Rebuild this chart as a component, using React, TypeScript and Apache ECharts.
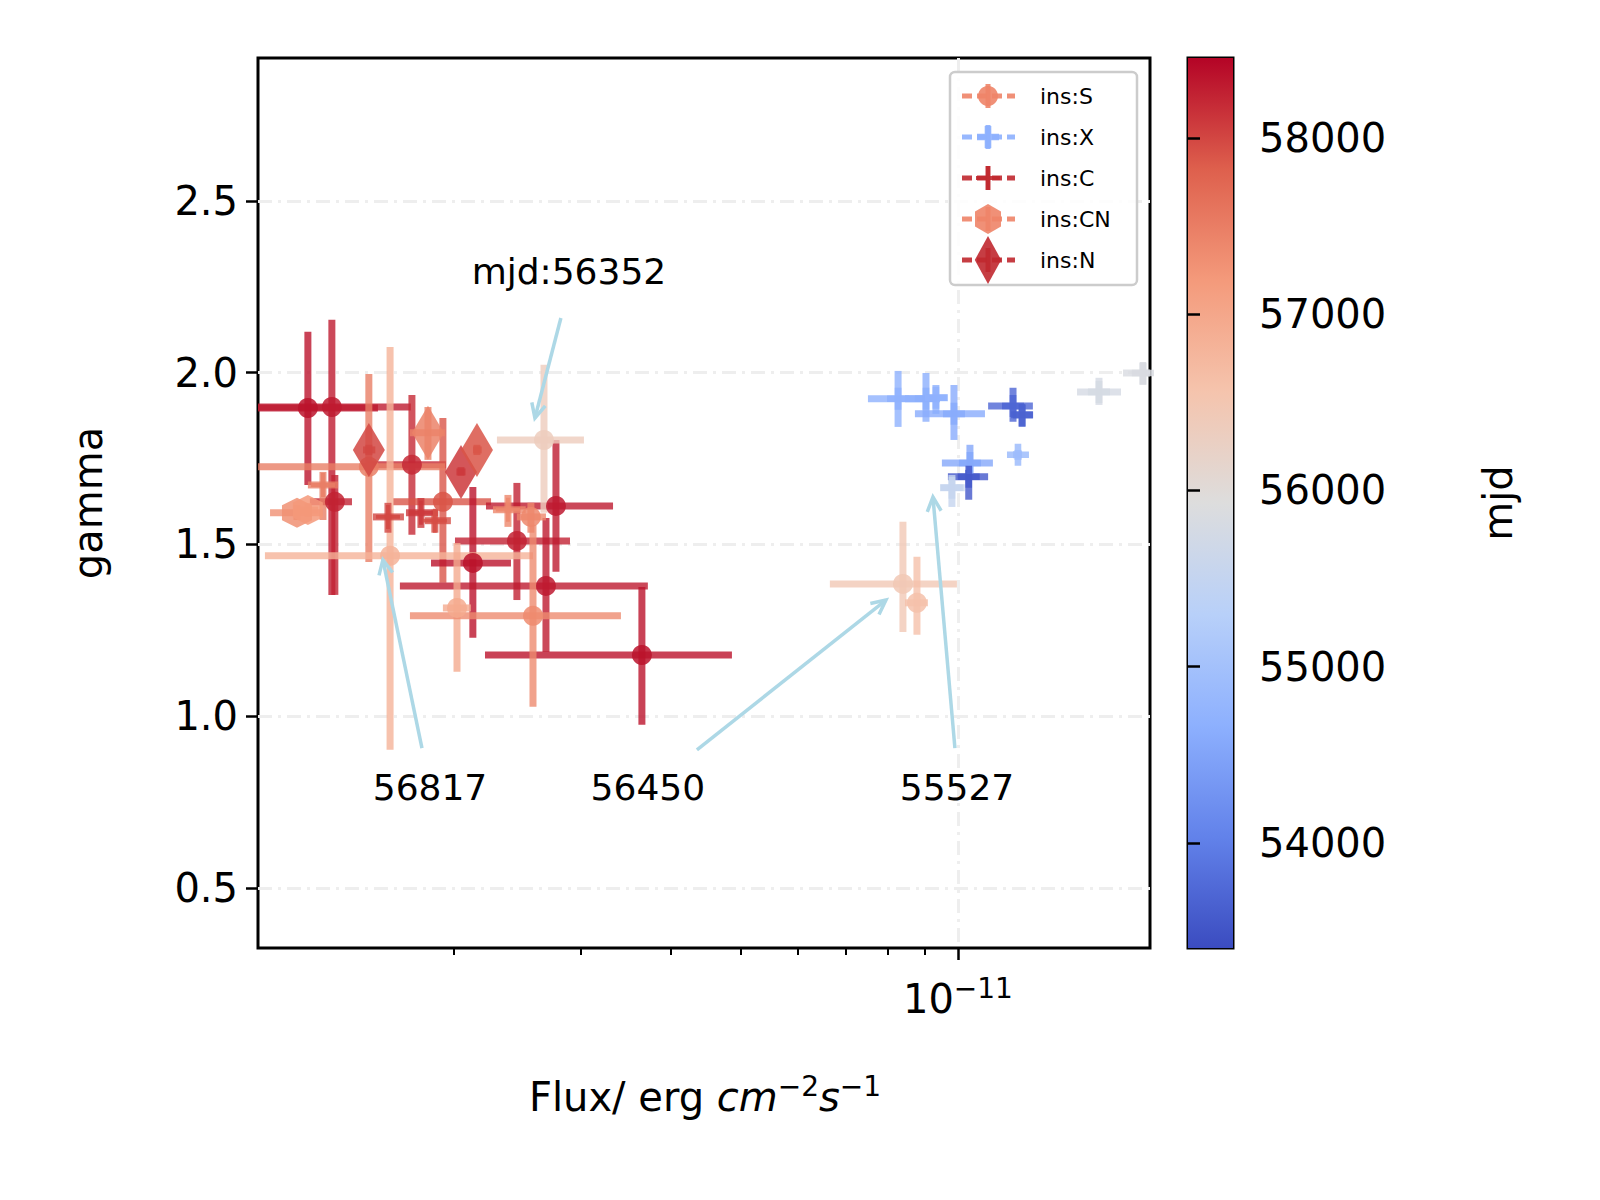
import React, { useEffect, useRef } from "react";
import * as echarts from "echarts";

// rows: [flux(1e-12), fluxLo, fluxHi, gamma, gammaLo, gammaHi, mjd]
const insS = [
  [1.258, 1.013, 1.573, 1.897, 1.673, 2.119, 58350],
  [1.358, 1.073, 1.747, 1.9, 1.353, 2.154, 58300],
  [1.371, 1.266, 1.448, 1.624, 1.353, 1.702, 58250],
  [1.753, 1.523, 1.954, 1.732, 1.528, 1.935, 58200],
  [1.935, 1.651, 2.256, 1.624, 1.388, 1.868, 57900],
  [2.129, 1.863, 2.404, 1.446, 1.228, 1.667, 58350],
  [2.45, 2.011, 2.902, 1.51, 1.338, 1.679, 58250],
  [2.775, 2.22, 3.329, 1.612, 1.42, 1.804, 58300],
  [2.688, 1.687, 3.72, 1.379, 1.187, 1.577, 58300],
  [3.65, 2.213, 4.864, 1.178, 0.975, 1.376, 58350],
  [1.528, 1.073, 1.948, 1.726, 1.449, 1.996, 57500],
  [1.635, 1.097, 2.579, 1.467, 0.902, 2.075, 56817],
  [2.024, 1.935, 2.116, 1.315, 1.129, 1.504, 56950],
  [2.579, 1.742, 3.414, 1.292, 1.027, 1.557, 57350],
  [2.562, 2.45, 2.688, 1.58, 1.534, 1.621, 57400],
  [2.671, 2.299, 3.034, 1.804, 1.592, 2.023, 56352],
  [8.391, 6.647, 9.968, 1.385, 1.245, 1.566, 56450],
  [8.775, 8.446, 9.088, 1.33, 1.237, 1.464, 56600],
];
const insX = [
  [8.262, 7.505, 9.088, 1.924, 1.842, 2.005, 54700],
  [9.031, 8.446, 9.443, 1.924, 1.857, 1.999, 54650],
  [9.322, 9.031, 9.685, 1.927, 1.88, 1.964, 54700],
  [9.874, 8.718, 10.9, 1.88, 1.804, 1.964, 54600],
  [11.92, 11.01, 12.7, 1.903, 1.857, 1.956, 53700],
  [12.27, 11.92, 12.7, 1.877, 1.842, 1.906, 53650],
  [12.11, 11.92, 12.27, 1.761, 1.746, 1.775, 54900],
  [10.39, 9.501, 11.18, 1.737, 1.708, 1.79, 54550],
  [10.35, 9.685, 11.01, 1.697, 1.63, 1.717, 53550],
  [9.81, 9.443, 10.22, 1.665, 1.609, 1.702, 55527],
  [15.68, 14.62, 16.82, 1.944, 1.906, 1.985, 55800],
  [18.04, 16.93, 18.75, 1.999, 1.964, 2.028, 55850],
];
const insC = [
  [1.32, 1.258, 1.385, 1.673, 1.571, 1.711, 57500],
  [1.624, 1.548, 1.709, 1.58, 1.534, 1.621, 58000],
  [1.804, 1.72, 1.905, 1.592, 1.548, 1.635, 58100],
  [1.886, 1.827, 1.985, 1.569, 1.534, 1.601, 57950],
  [2.381, 2.27, 2.52, 1.601, 1.551, 1.644, 57400],
];
const insCN = [
  [1.215, 1.115, 1.32, 1.592, 1.571, 1.615, 57300],
  [1.258, 1.215, 1.3, 1.6, 1.58, 1.62, 57200],
];
const insN = [
  [1.528, 1.5, 1.56, 1.775, 1.76, 1.79, 58000],
  [1.845, 1.742, 1.948, 1.825, 1.746, 1.9, 57450],
  [2.05, 2.02, 2.08, 1.711, 1.7, 1.725, 58100],
  [2.157, 2.13, 2.19, 1.775, 1.76, 1.79, 57900],
];

const gammaTicks = [0.5, 1.0, 1.5, 2.0, 2.5];
const mjdTicks = [54000, 55000, 56000, 57000, 58000];
const minorFlux = [2, 3, 4, 5, 6, 7, 8, 9];
const mjdMin = 53404;
const mjdMax = 58454;

// [label, textFlux, textGamma, startFlux, startGamma, tipFlux, tipGamma]
const notes: [string, number, number, number, number, number, number][] = [
  ["mjd:56352", 2.892, 2.293, 2.819, 2.159, 2.595, 1.868],
  ["56817", 1.857, 0.791, 1.81, 0.907, 1.598, 1.455],
  ["56450", 3.72, 0.791, 4.35, 0.902, 7.949, 1.338],
  ["55527", 9.97, 0.791, 9.904, 0.907, 9.234, 1.638],
];

const stops = [
  [59, 76, 192], [98, 130, 234], [141, 176, 254], [184, 208, 249], [221, 221, 221],
  [245, 196, 173], [244, 154, 123], [222, 96, 77], [180, 4, 38],
];
const cmap = (m: number) => {
  const t = Math.min(1, Math.max(0, (m - mjdMin) / (mjdMax - mjdMin))) * 8;
  const i = Math.min(7, Math.floor(t));
  const f = t - i;
  const c = stops[i].map((v, k) => Math.round(v + (stops[i + 1][k] - v) * f));
  return `rgb(${c[0]},${c[1]},${c[2]})`;
};

// unit shapes as point lists, reused for series symbols and legend markers
const plus = (w: number) => [[-w, -1], [w, -1], [w, -w], [1, -w], [1, w], [w, w], [w, 1], [-w, 1], [-w, w], [-1, w], [-1, -w], [-w, -w]];
const hexPts = [[0, -1], [0.866, -0.5], [0.866, 0.5], [0, 1], [-0.866, 0.5], [-0.866, -0.5]];
const diaPts = [[0, -1], [0.6, 0], [0, 1], [-0.6, 0]];
const toPath = (pts: number[][]) => "path://M" + pts.map((p) => p.join(",")).join(" L") + " Z";

const groups = [
  { name: "ins:S", rows: insS, symbol: "circle", pts: null as any, size: 20, lsize: [11, 11], legend: "#ee8468" },
  { name: "ins:X", rows: insX, symbol: toPath(plus(0.3)), pts: plus(0.3), size: 22, lsize: [11, 11], legend: "#8db0fe" },
  { name: "ins:C", rows: insC, symbol: toPath(plus(0.16)), pts: plus(0.16), size: 24, lsize: [12, 12], legend: "#c0282f" },
  { name: "ins:CN", rows: insCN, symbol: toPath(hexPts), pts: hexPts, size: 30, lsize: [15, 15], legend: "#ee8468" },
  { name: "ins:N", rows: insN, symbol: toPath(diaPts), pts: diaPts, size: [32, 54], lsize: [22, 24], legend: "#c0282f" },
];

const lg = Math.log10;
const font = "DejaVu Sans";

const App: React.FC = () => {
  const ref = useRef<HTMLDivElement>(null);

  useEffect(() => {
    if (!ref.current) return;
    const chart = echarts.init(ref.current, undefined, { renderer: "svg" });
    const xMin = lg(1.073);
    const xMax = lg(18.45);

    const series: any[] = [];
    groups.forEach((g) => {
      series.push({
        type: "custom",
        clip: true,
        z: 2,
        data: g.rows.map((r) => [lg(r[0]), lg(r[1]), lg(r[2]), r[3], r[4], r[5], r[6]]),
        encode: { x: 0, y: 3 },
        renderItem: (params: any, api: any) => {
          const color = cmap(api.value(6));
          const a = api.coord([api.value(1), api.value(3)]);
          const b = api.coord([api.value(2), api.value(3)]);
          const c = api.coord([api.value(0), api.value(4)]);
          const d = api.coord([api.value(0), api.value(5)]);
          const style = { stroke: color, lineWidth: 7, opacity: 0.8 };
          return {
            type: "group",
            children: [
              { type: "line", shape: { x1: a[0], y1: a[1], x2: b[0], y2: b[1] }, style },
              { type: "line", shape: { x1: c[0], y1: c[1], x2: d[0], y2: d[1] }, style },
            ],
          };
        },
      });
      series.push({
        type: "scatter",
        z: 3,
        symbol: g.symbol,
        symbolSize: g.size,
        data: g.rows.map((r) => [lg(r[0]), r[3], r[6]]),
        itemStyle: { color: (p: any) => cmap(p.data[2]), opacity: 0.85 },
      });
    });

    const tickStyle = { color: "#000", width: 2.5 };
    const gridLine = { color: "#eeeeee", width: 3, type: [14, 6, 3, 6] };
    chart.setOption({
      animation: false,
      textStyle: { fontFamily: font },
      grid: [
        { left: 250, top: 50, width: 892, height: 890, outerBoundsMode: "none", containLabel: false, show: true, borderColor: "#000", borderWidth: 3, backgroundColor: "transparent" },
        { left: 1180, top: 50, width: 45, height: 890, outerBoundsMode: "none", containLabel: false, show: true, borderColor: "#000", borderWidth: 3 },
      ],
      xAxis: [
        {
          type: "value", gridIndex: 0, min: xMin, max: xMax, position: "bottom",
          axisLine: { show: false },
          axisTick: { customValues: [1], length: 12, lineStyle: tickStyle },
          axisLabel: {
            customValues: [1], margin: 26,
            formatter: () => "{b|10}{s|−11}",
            rich: { b: { fontSize: 40, color: "#000", fontFamily: font }, s: { fontSize: 28, color: "#000", fontFamily: font, verticalAlign: "top", padding: [0, 0, 22, 0] } },
          },
          splitLine: { show: true, customValues: [1], lineStyle: gridLine },
        },
        {
          type: "value", gridIndex: 0, min: xMin, max: xMax, position: "bottom", offset: 0,
          axisLine: { show: false },
          axisTick: { customValues: minorFlux.map(lg), length: 7, lineStyle: { color: "#000", width: 2 } },
          axisLabel: { show: false },
          splitLine: { show: false },
        },
        { type: "value", gridIndex: 1, show: false, min: 0, max: 1 },
      ],
      yAxis: [
        {
          type: "value", gridIndex: 0, min: 0.325, max: 2.916,
          name: "gamma", nameLocation: "middle", nameGap: 150,
          nameTextStyle: { fontSize: 40, color: "#000", fontFamily: font },
          axisLine: { show: false },
          axisTick: { customValues: gammaTicks, length: 12, lineStyle: tickStyle },
          axisLabel: { customValues: gammaTicks, fontSize: 40, color: "#000", margin: 20, formatter: (v: number) => v.toFixed(1) },
          splitLine: { show: true, lineStyle: gridLine },
        },
        {
          type: "value", gridIndex: 1, min: mjdMin, max: mjdMax, position: "right",
          name: "mjd", nameLocation: "middle", nameGap: 245, nameRotate: 90,
          nameTextStyle: { fontSize: 40, color: "#000", fontFamily: font },
          axisLine: { show: false },
          axisTick: { customValues: mjdTicks, length: 12, lineStyle: tickStyle },
          axisLabel: { customValues: mjdTicks, fontSize: 40, color: "#000", margin: 26, formatter: (v: number) => String(v) },
          splitLine: { show: false },
        },
      ],
      series,
    });

    const px = (f: number, g: number) => chart.convertToPixel({ gridIndex: 0 }, [lg(f), g]) as number[];
    const graphic: any[] = [];

    // colour bar
    graphic.push({
      type: "rect", z: 0,
      shape: { x: 1180, y: 50, width: 45, height: 890 },
      style: {
        fill: new echarts.graphic.LinearGradient(0, 1, 0, 0,
          stops.map((c, i) => ({ offset: i / 8, color: `rgb(${c[0]},${c[1]},${c[2]})` }))),
      },
    });

    // annotations
    notes.forEach(([label, tf, tg, sf, sg, hf, hg]) => {
      const t = px(tf, tg);
      const s = px(sf, sg);
      const h = px(hf, hg);
      graphic.push({ type: "text", x: t[0], y: t[1], z: 10, style: { text: label, fontSize: 36, fontFamily: font, fill: "#000", align: "center", verticalAlign: "middle" } });
      const ang = Math.atan2(s[1] - h[1], s[0] - h[0]);
      const L = 16;
      const arrow = { stroke: "#add8e6", lineWidth: 3.5, fill: "none" };
      graphic.push({ type: "line", z: 10, shape: { x1: s[0], y1: s[1], x2: h[0], y2: h[1] }, style: arrow });
      graphic.push({
        type: "polyline", z: 10,
        shape: { points: [[h[0] + L * Math.cos(ang + 0.45), h[1] + L * Math.sin(ang + 0.45)], h, [h[0] + L * Math.cos(ang - 0.45), h[1] + L * Math.sin(ang - 0.45)]] },
        style: arrow,
      });
    });

    // legend
    graphic.push({ type: "rect", z: 10, shape: { x: 942, y: 64, width: 187, height: 213, r: 5 }, style: { fill: "rgba(255,255,255,0.85)", stroke: "#cccccc", lineWidth: 2.5 } });
    groups.forEach((g, i) => {
      const y = 88 + i * 41;
      const cx = 980;
      graphic.push({ type: "line", z: 11, shape: { x1: 954, y1: y, x2: 1007, y2: y }, style: { stroke: g.legend, lineWidth: 5, lineDash: [10, 5], opacity: 0.9 } });
      graphic.push({ type: "line", z: 11, shape: { x1: cx, y1: y - 12, x2: cx, y2: y + 12 }, style: { stroke: g.legend, lineWidth: 5, opacity: 0.9 } });
      if (g.pts) {
        graphic.push({ type: "polygon", z: 12, shape: { points: g.pts.map((p: number[]) => [cx + p[0] * g.lsize[0], y + p[1] * g.lsize[1]]) }, style: { fill: g.legend, opacity: 0.9 } });
      } else {
        graphic.push({ type: "circle", z: 12, shape: { cx, cy: y, r: 10 }, style: { fill: g.legend, opacity: 0.9 } });
      }
      graphic.push({ type: "text", z: 12, x: 1032, y, style: { text: g.name, fontSize: 22, fontFamily: font, fill: "#000", verticalAlign: "middle" } });
    });

    // x axis title
    graphic.push({
      type: "text", x: 697, y: 1089,
      style: {
        text: "{a|Flux/ erg }{i|cm}{s|−2}{i|s}{s|−1}",
        align: "center", verticalAlign: "middle",
        rich: {
          a: { fontSize: 40, fontFamily: font, fill: "#000" },
          i: { fontSize: 40, fontFamily: font, fontStyle: "italic", fill: "#000" },
          s: { fontSize: 28, fontFamily: font, fill: "#000", verticalAlign: "top", padding: [0, 0, 22, 0] },
        },
      },
    });

    chart.setOption({ graphic });

    return () => chart.dispose();
  }, []);

  return <div ref={ref} style={{ width: 1584, height: 1184 }} />;
};

export default App;
